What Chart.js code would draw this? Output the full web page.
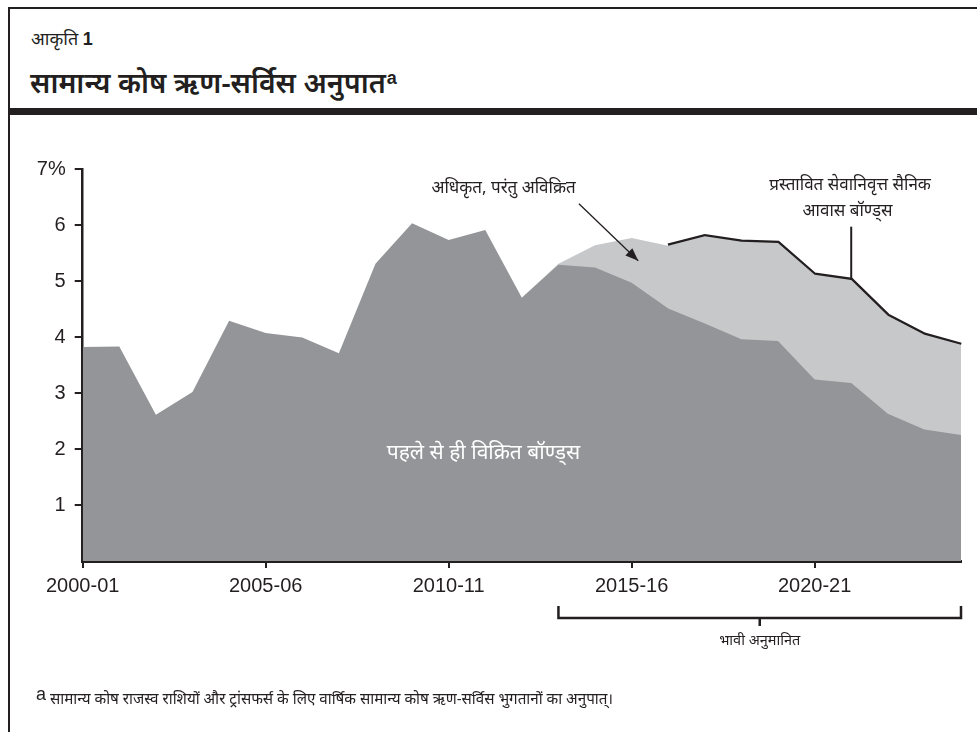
<!DOCTYPE html>
<html>
<head>
<meta charset="utf-8">
<script src="https://cdn.jsdelivr.net/npm/chart.js@4.4.1/dist/chart.umd.min.js"></script>
<style>
html,body{margin:0;padding:0;background:#fff;}
body{width:977px;height:732px;position:relative;overflow:hidden;font-family:'Noto Sans','Noto Sans Devanagari',sans-serif;color:#231f20;}
#chartBox{position:absolute;left:0;top:0;width:977px;height:732px;}
.frameTop{position:absolute;left:8px;top:7px;width:969px;height:2px;background:#231f20;}
.frameLeft{position:absolute;left:8px;top:7px;width:2px;height:725px;background:#231f20;}
.bar{position:absolute;left:8px;top:108px;width:969px;height:7px;background:#231f20;}
.fig{position:absolute;left:31px;top:26px;font-size:18px;line-height:24px;white-space:nowrap;}
.fig b{font-family:'Liberation Sans',Arial,sans-serif;font-size:18px;}
.title{position:absolute;left:30px;top:59px;font-size:28.5px;line-height:38px;font-weight:600;white-space:nowrap;}
.title sup{font-family:'Liberation Sans',Arial,sans-serif;font-weight:700;font-size:18px;vertical-align:9px;margin-left:1px;}
.foot{position:absolute;left:36px;top:684px;font-size:15.2px;line-height:20px;white-space:nowrap;}
.foot span.a{font-family:'Liberation Sans',Arial,sans-serif;font-size:18px;vertical-align:4px;margin-right:4px;}
</style>
</head>
<body>
<div class="frameTop"></div>
<div class="frameLeft"></div>
<div class="bar"></div>
<div class="fig">आकृति <b>1</b></div>
<div class="title">सामान्य कोष ऋण-सर्विस अनुपात<sup>a</sup></div>
<div id="chartBox"><canvas id="c" width="977" height="732"></canvas></div>
<div class="foot"><span class="a">a</span>सामान्य कोष राजस्व राशियों और ट्रांसफर्स के लिए वार्षिक सामान्य कोष ऋण-सर्विस भुगतानों का अनुपात्।</div>
<script>
const years = ['2000-01','2001-02','2002-03','2003-04','2004-05','2005-06','2006-07','2007-08','2008-09','2009-10',
  '2010-11','2011-12','2012-13','2013-14','2014-15','2015-16','2016-17','2017-18','2018-19','2019-20',
  '2020-21','2021-22','2022-23','2023-24','2024-25'];
const xTickLabels = ['2000-01','2005-06','2010-11','2015-16','2020-21'];
const yTickLabels = ['', '1', '2', '3', '4', '5', '6', '7%'];

// Already sold bonds (dark area)
const soldBonds = [3.82,3.83,2.61,3.02,4.29,4.07,3.99,3.71,5.31,6.03,
  5.73,5.91,4.70,5.29,5.24,4.97,4.51,4.24,3.96,3.93,
  3.24,3.18,2.63,2.35,2.25];
// Top of authorized but unsold bonds (light area)
const authorizedTotal = [null,null,null,null,null,null,null,null,null,null,
  null,null,4.70,5.31,5.64,5.77,5.63,5.80,5.70,5.68,
  5.11,5.02,4.38,4.04,3.86];
// Total with proposed veterans housing bonds (black line)
const proposedTotal = [null,null,null,null,null,null,null,null,null,null,
  null,null,null,null,null,null,5.63,5.80,5.70,5.68,
  5.11,5.02,4.38,4.04,3.86];

const INK = '#231f20';
const DARK = '#939598';
const LIGHT = '#c7c8ca';
const DEV = "'Noto Sans','Noto Sans Devanagari',sans-serif";

const annotations = {
  id: 'annotations',
  afterDraw(chart) {
    const ctx = chart.ctx;
    const xs = chart.scales.x, ys = chart.scales.y;
    const px = i => xs.getPixelForValue(i);
    const py = v => ys.getPixelForValue(v);
    ctx.save();
    ctx.fillStyle = INK;
    ctx.strokeStyle = INK;
    ctx.textAlign = 'center';
    ctx.textBaseline = 'middle';

    // inner label
    ctx.fillStyle = '#ffffff';
    ctx.font = '21px ' + DEV;
    ctx.fillText('पहले से ही विक्रित बॉण्ड्स', px(10.95), py(1.92));

    // authorized label + arrow
    ctx.fillStyle = INK;
    ctx.font = '17px ' + DEV;
    ctx.fillText('अधिकृत, परंतु अविक्रित', px(11.5), py(6.66));
    const x1 = px(13.56), y1 = py(6.38), x2 = px(15.18), y2 = py(5.36);
    ctx.lineWidth = 1.3;
    ctx.beginPath(); ctx.moveTo(x1, y1); ctx.lineTo(x2, y2); ctx.stroke();
    const ang = Math.atan2(y2 - y1, x2 - x1);
    const L = 13, W = 5;
    ctx.beginPath();
    ctx.moveTo(x2, y2);
    ctx.lineTo(x2 - L * Math.cos(ang) + W * Math.sin(ang), y2 - L * Math.sin(ang) - W * Math.cos(ang));
    ctx.lineTo(x2 - L * Math.cos(ang) - W * Math.sin(ang), y2 - L * Math.sin(ang) + W * Math.cos(ang));
    ctx.closePath(); ctx.fill();

    // proposed veterans housing label + leader
    ctx.font = '17px ' + DEV;
    ctx.fillText('प्रस्तावित सेवानिवृत्त सैनिक', px(20.97), py(6.72));
    ctx.fillText('आवास बॉण्ड्स', px(20.9), py(6.24));
    ctx.lineWidth = 2;
    ctx.beginPath(); ctx.moveTo(px(21), py(5.97)); ctx.lineTo(px(21), py(proposedTotal[21])); ctx.stroke();

    // projected bracket
    const bl = px(13), br = px(24), by = chart.chartArea.bottom + 57;
    ctx.lineWidth = 2.5;
    ctx.beginPath();
    ctx.moveTo(bl, by - 12); ctx.lineTo(bl, by); ctx.lineTo(br, by); ctx.lineTo(br, by - 12);
    ctx.stroke();
    const bm = (bl + br) / 2;
    ctx.beginPath(); ctx.moveTo(bm, by); ctx.lineTo(bm, by + 8); ctx.stroke();
    ctx.font = '14.5px ' + DEV;
    ctx.fillText('भावी अनुमानित', bm, by + 23);
    ctx.restore();
  }
};

new Chart(document.getElementById('c'), {
  type: 'line',
  data: {
    labels: years,
    datasets: [
      { label: 'पहले से ही विक्रित बॉण्ड्स', data: soldBonds, fill: 'origin', backgroundColor: DARK,
        borderWidth: 0, pointRadius: 0, tension: 0 },
      { label: 'अधिकृत, परंतु अविक्रित', data: authorizedTotal, fill: 'origin', backgroundColor: LIGHT,
        borderWidth: 0, pointRadius: 0, tension: 0 },
      { label: 'प्रस्तावित सेवानिवृत्त सैनिक आवास बॉण्ड्स', data: proposedTotal, fill: false, borderColor: INK,
        borderWidth: 4.5, pointRadius: 0, tension: 0 }
    ]
  },
  options: {
    responsive: false,
    animation: false,
    layout: { padding: { left: 32.7, right: 16, top: 169, bottom: 121 } },
    plugins: { legend: { display: false }, tooltip: { enabled: false } },
    scales: {
      x: {
        type: 'category',
        afterFit: s => { s.height = 50; },
        grid: {
          drawOnChartArea: false, drawTicks: true, tickLength: 7, lineWidth: 2,
          color: c => (c.tick && xTickLabels.includes(years[c.index])) ? INK : 'rgba(0,0,0,0)'
        },
        border: { display: true, color: INK, width: 3 },
        ticks: {
          autoSkip: false, maxRotation: 0, minRotation: 0, padding: 6, color: INK,
          font: { family: "'Liberation Sans', Arial, sans-serif", size: 20 },
          callback: (v, i) => xTickLabels.includes(years[i]) ? years[i] : ''
        }
      },
      y: {
        min: 0, max: 7,
        afterFit: s => { s.width = 50; },
        grid: {
          drawOnChartArea: false, drawTicks: true, tickLength: 8, lineWidth: 2,
          color: c => (c.tick && c.tick.value === 0) ? 'rgba(0,0,0,0)' : INK
        },
        border: { display: true, color: INK, width: 2.5 },
        ticks: {
          stepSize: 1, padding: 9, color: INK,
          font: { family: "'Liberation Sans', Arial, sans-serif", size: 20 },
          callback: v => yTickLabels[v]
        }
      }
    }
  },
  plugins: [annotations]
});
</script>
</body>
</html>
